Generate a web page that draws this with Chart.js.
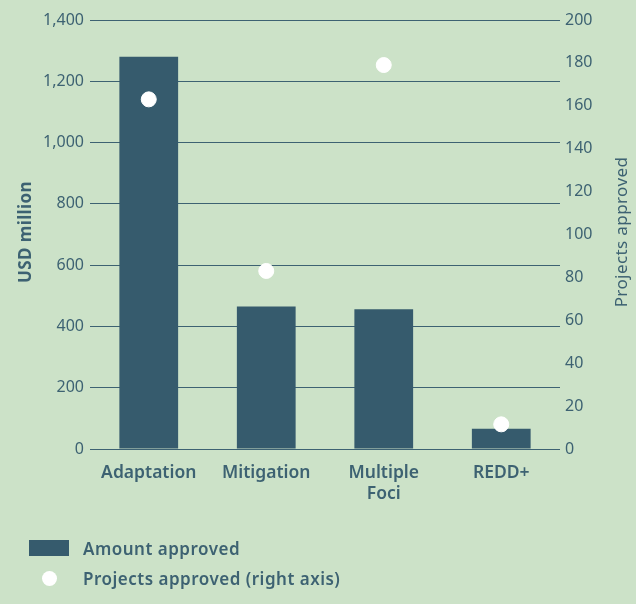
<!DOCTYPE html>
<html>
<head>
<meta charset="utf-8">
<script src="https://cdn.jsdelivr.net/npm/chart.js@4/dist/chart.umd.min.js"></script>
<style>
  html, body { margin:0; padding:0; background:#cce2c8; }
  #wrap { position:relative; width:636px; height:604px; overflow:hidden; }
  #legend { position:absolute; left:29px; top:533px; font-family:"Noto Sans", sans-serif; font-size:17px; font-weight:600; letter-spacing:0.5px; color:#3d6272; }
  .item { display:flex; align-items:center; height:30px; }
  .sw { width:40px; height:16px; background:#365b6d; margin-right:14px; }
  .dot { width:15px; height:15px; border-radius:50%; background:#fff; margin:0 26px 0 13px; }
  .ttl { position:absolute; width:160px; height:18px; line-height:18px; text-align:center; font-family:"Noto Sans", sans-serif; font-size:17px; color:#3d6272; letter-spacing:0.4px; white-space:nowrap; transform:rotate(-90deg); transform-origin:80px 9px; }
</style>
</head>
<body>
<div id="wrap">
  <canvas id="chart" width="636" height="604"></canvas>
  <div class="ttl" style="left:-55px; top:223px; font-weight:bold;">USD million</div>
  <div class="ttl" style="left:541px; top:223px;">Projects approved</div>
  <div id="legend">
    <div class="item"><div class="sw"></div>Amount approved</div>
    <div class="item"><div class="dot"></div>Projects approved (right axis)</div>
  </div>
</div>
<script>
// ===== DATA =====
const categories = [['Adaptation'], ['Mitigation'], ['Multiple', 'Foci'], ['REDD+']];
const amountApproved = [1280, 465, 456, 66];
const projectsApproved = [163, 83, 179, 11.5];

const textColor = '#3d6272';
const font = { family: '"Noto Sans", sans-serif', size: 16 };

// ===== CHART =====
const chart = new Chart(document.getElementById('chart'), {
  data: {
    labels: categories,
    datasets: [
      {
        type: 'scatter',
        label: 'Projects approved (right axis)',
        data: projectsApproved.map((v, i) => ({ x: i, y: v })),
        yAxisID: 'y2',
        backgroundColor: '#ffffff',
        borderColor: '#ffffff',
        pointRadius: 7.5,
        pointHoverRadius: 7.5,
        order: 0
      },
      {
        type: 'bar',
        label: 'Amount approved',
        data: amountApproved,
        yAxisID: 'y',
        backgroundColor: '#365b6d',
        barPercentage: 0.5,
        categoryPercentage: 1,
        order: 1
      }
    ]
  },
  options: {
    responsive: false,
    animation: false,
    layout: { padding: { top: 20, left: 0, right: 0, bottom: 0 } },
    plugins: { legend: { display: false }, tooltip: { enabled: false } },
    scales: {
      x: {
        type: 'category',
        offset: true,
        grid: { display: false },
        border: { display: false },
        ticks: { color: textColor, font: { ...font, size: 17.5, weight: 600 }, padding: 6, maxRotation: 0 },
        afterFit: s => { s.height = 604 - 449; }
      },
      y: {
        position: 'left',
        min: 0, max: 1400,
        ticks: { stepSize: 200, color: textColor, font: font, padding: 6 },
        grid: { color: '#3d6272', lineWidth: 1, drawTicks: false },
        border: { display: false },
        afterFit: s => { s.width = 90; }
      },
      y2: {
        position: 'right',
        min: 0, max: 200,
        ticks: { stepSize: 20, color: textColor, font: font, padding: 5 },
        grid: { display: false, drawTicks: false },
        border: { display: false },
        afterFit: s => { s.width = 76; }
      }
    }
  }
});
</script>
</body>
</html>
